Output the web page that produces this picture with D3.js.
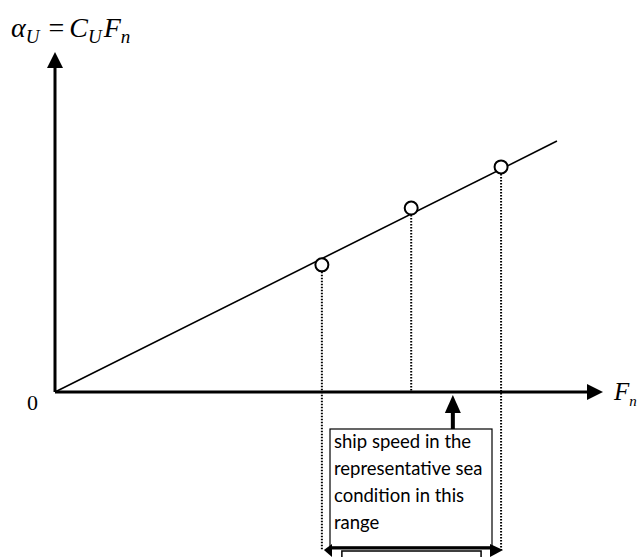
<!DOCTYPE html>
<html>
<head>
<meta charset="utf-8">
<script src="https://cdn.jsdelivr.net/npm/d3@7"></script>
<style>
  body { margin: 0; background: #fff; }
  svg { display: block; }
</style>
</head>
<body>
<div id="chart"></div>
<script>
// data (arbitrary units: Fn on x, alpha_U on y)
var pointsFn = [48.7, 65.0, 81.4];
var pointsAlpha = [37.4, 54.1, 66.2];
var fitLine = [[0, 0], [91.6, 73.8]];
var rangeFn = [48.7, 81.4];
var markerFn = 72.6;
var boxLines = ["ship speed in the", "representative sea", "condition in this", "range"];

var width = 639, height = 557;
var svg = d3.select("#chart").append("svg")
    .attr("width", width)
    .attr("height", height);

var x = d3.scaleLinear().domain([0, 100]).range([55, 603]);
var y = d3.scaleLinear().domain([0, 100]).range([392, 52]);

// axes
svg.append("line")
    .attr("x1", x(0)).attr("y1", y(0))
    .attr("x2", x(0)).attr("y2", y(100) + 12)
    .attr("stroke", "#000").attr("stroke-width", 3);
svg.append("path")
    .attr("d", "M" + x(0) + "," + y(100) + "L" + (x(0) - 8) + "," + (y(100) + 16) + "L" + (x(0) + 8) + "," + (y(100) + 16) + "Z")
    .attr("fill", "#000");

svg.append("line")
    .attr("x1", x(0)).attr("y1", y(0))
    .attr("x2", x(100) - 12).attr("y2", y(0))
    .attr("stroke", "#000").attr("stroke-width", 3);
svg.append("path")
    .attr("d", "M" + x(100) + "," + y(0) + "L" + (x(100) - 16) + "," + (y(0) - 8) + "L" + (x(100) - 16) + "," + (y(0) + 8) + "Z")
    .attr("fill", "#000");

// fitted line
svg.append("path")
    .datum(fitLine)
    .attr("d", d3.line().x(function(d) { return x(d[0]); }).y(function(d) { return y(d[1]); }))
    .attr("fill", "none")
    .attr("stroke", "#000")
    .attr("stroke-width", 1.6);

// dotted drops
var dropEnds = [y(0) + 158, y(0), y(0) + 158];
svg.selectAll(".drop")
    .data(pointsFn)
    .enter().append("line")
    .attr("class", "drop")
    .attr("x1", function(d) { return x(d); })
    .attr("x2", function(d) { return x(d); })
    .attr("y1", function(d, i) { return y(pointsAlpha[i]) + 7; })
    .attr("y2", function(d, i) { return dropEnds[i]; })
    .attr("stroke", "#000")
    .attr("stroke-width", 2)
    .attr("stroke-dasharray", "1.5,1.5");

// points
svg.selectAll(".pt")
    .data(pointsFn)
    .enter().append("circle")
    .attr("class", "pt")
    .attr("cx", function(d) { return x(d); })
    .attr("cy", function(d, i) { return y(pointsAlpha[i]); })
    .attr("r", 6.5)
    .attr("fill", "#fff")
    .attr("stroke", "#000")
    .attr("stroke-width", 2);

// up arrow to axis
var mx = x(markerFn);
svg.append("rect")
    .attr("x", mx - 2).attr("y", y(0) + 20)
    .attr("width", 4).attr("height", 18)
    .attr("fill", "#000");
svg.append("path")
    .attr("d", "M" + mx + "," + (y(0) + 3) + "L" + (mx - 8) + "," + (y(0) + 21) + "L" + (mx + 8) + "," + (y(0) + 21) + "Z")
    .attr("fill", "#000");

// text box
var bx0 = 330, bx1 = 492, by0 = 429, by1 = 547;
svg.append("rect")
    .attr("x", bx0).attr("y", by0)
    .attr("width", bx1 - bx0).attr("height", by1 - by0)
    .attr("fill", "#fff")
    .attr("stroke", "#000")
    .attr("stroke-width", 1.2);
svg.selectAll(".boxtxt")
    .data(boxLines)
    .enter().append("text")
    .attr("class", "boxtxt")
    .attr("x", bx0 + 4)
    .attr("y", function(d, i) { return 448 + i * 27; })
    .attr("font-family", "Lato, 'Open Sans', sans-serif")
    .attr("font-size", 18.5)
    .attr("fill", "#000")
    .text(function(d) { return d; });

// range double arrow
var rx0 = x(rangeFn[0]), rx1 = x(rangeFn[1]);
svg.append("rect")
    .attr("x", rx0 + 20).attr("y", 551)
    .attr("width", rx1 - rx0 - 40).attr("height", 10)
    .attr("fill", "#fff")
    .attr("stroke", "#000")
    .attr("stroke-width", 1.5);
svg.append("line")
    .attr("x1", bx0).attr("x2", bx1)
    .attr("y1", by1 + 1).attr("y2", by1 + 1)
    .attr("stroke", "#000").attr("stroke-width", 3);
svg.append("path")
    .attr("d", "M" + (rx0 + 2) + "," + 550 + "L" + (bx0 + 2) + "," + 544 + "L" + (bx0 + 2) + "," + 557 + "Z")
    .attr("fill", "#000");
svg.append("path")
    .attr("d", "M" + (rx1 + 2) + "," + 550 + "L" + (bx1 - 2) + "," + 544 + "L" + (bx1 - 2) + "," + 557 + "Z")
    .attr("fill", "#000");

// labels
var serif = "'Liberation Serif', 'DejaVu Serif', serif";
svg.append("text")
    .attr("x", 27).attr("y", 410)
    .attr("font-family", serif)
    .attr("font-size", 22)
    .text("0");

var fx = svg.append("text")
    .attr("x", 614).attr("y", 400)
    .attr("font-family", serif)
    .attr("font-style", "italic")
    .attr("font-size", 25);
fx.append("tspan").text("F");
fx.append("tspan").attr("dy", 6).attr("font-size", 15).text("n");

var title = svg.append("text")
    .attr("x", 11).attr("y", 37)
    .attr("font-family", serif)
    .attr("font-style", "italic")
    .attr("font-size", 28);
title.append("tspan").text("\u03b1");
title.append("tspan").attr("dy", 6).attr("font-size", 19).text("U");
title.append("tspan").attr("dy", -6).attr("dx", 9).attr("font-style", "normal").text("=");
title.append("tspan").attr("dx", 5).text("C");
title.append("tspan").attr("dy", 6).attr("font-size", 19).text("U");
title.append("tspan").attr("dy", -6).attr("dx", 2).text("F");
title.append("tspan").attr("dy", 6).attr("font-size", 19).text("n");
</script>
</body>
</html>
